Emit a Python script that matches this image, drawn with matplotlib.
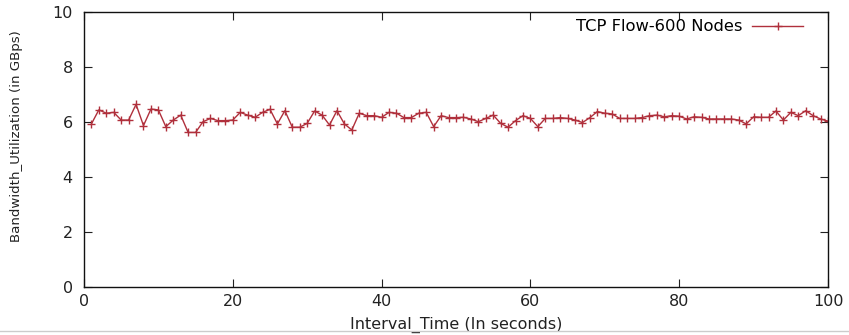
import matplotlib
matplotlib.use("Agg")
import matplotlib.pyplot as plt
from matplotlib.lines import Line2D

# interval time (s) and bandwidth utilisation (GBps)
time_s = list(range(1, 101))
bandwidth = [
    5.93, 6.44, 6.32, 6.35, 6.07, 6.07, 6.64, 5.87, 6.47, 6.44,
    5.83, 6.07, 6.25, 5.62, 5.62, 6.01, 6.13, 6.05, 6.05, 6.07,
    6.35, 6.25, 6.17, 6.35, 6.46, 5.93, 6.41, 5.81, 5.81, 5.95,
    6.40, 6.25, 5.89, 6.41, 5.93, 5.71, 6.32, 6.23, 6.23, 6.17,
    6.35, 6.32, 6.16, 6.16, 6.32, 6.35, 5.83, 6.23, 6.16, 6.16,
    6.17, 6.11, 6.01, 6.13, 6.25, 5.95, 5.81, 6.05, 6.23, 6.13,
    5.83, 6.13, 6.13, 6.16, 6.13, 6.07, 5.98, 6.16, 6.38, 6.32,
    6.29, 6.13, 6.13, 6.13, 6.16, 6.23, 6.25, 6.19, 6.23, 6.21,
    6.11, 6.19, 6.17, 6.11, 6.11, 6.11, 6.11, 6.07, 5.93, 6.19,
    6.17, 6.17, 6.40, 6.07, 6.35, 6.23, 6.41, 6.23, 6.11, 6.03,
]
series_label = "TCP Flow-600 Nodes"
x_ticks = [0, 20, 40, 60, 80, 100]
y_ticks = [0, 2, 4, 6, 8, 10]

line_color = "#b0303c"

fig = plt.figure(figsize=(8.49, 3.35), dpi=100)
ax = fig.add_axes([0.0989, 0.1433, 0.8764, 0.8209])

ax.plot(time_s, bandwidth, color=line_color, lw=1.0, marker="+",
        markersize=6, markeredgewidth=1.0, label=series_label)

ax.set_xlim(0, 100)
ax.set_ylim(0, 10)
ax.set_xticks(x_ticks)
ax.set_yticks(y_ticks)
ax.tick_params(direction="in", length=6, width=0.8, top=True, right=True,
               labelsize=11.5, colors="#222222")
ax.tick_params(axis="y", pad=8)
ax.tick_params(axis="x", pad=5)
for s in ax.spines.values():
    s.set_linewidth(1.0)
    s.set_color("#111111")

ax.set_xlabel("Interval_Time (In seconds)", fontsize=11.5, color="#222222", labelpad=6)
ax.set_ylabel("Bandwidth_Utilization (in GBps)", fontsize=9.6, color="#222222")
ax.yaxis.set_label_coords(-0.082, 0.55)

leg = ax.legend(loc="upper right", bbox_to_anchor=(0.982, 1.015), frameon=False,
                markerfirst=False, handlelength=3.1, handletextpad=0.6,
                fontsize=11.8, borderaxespad=0.3)

# faint border line under the chart, as in the screenshot
fig.add_artist(Line2D([0, 1], [0.012, 0.012], transform=fig.transFigure,
                      color="#cccccc", lw=1))

fig.savefig("out.png", dpi=100)
